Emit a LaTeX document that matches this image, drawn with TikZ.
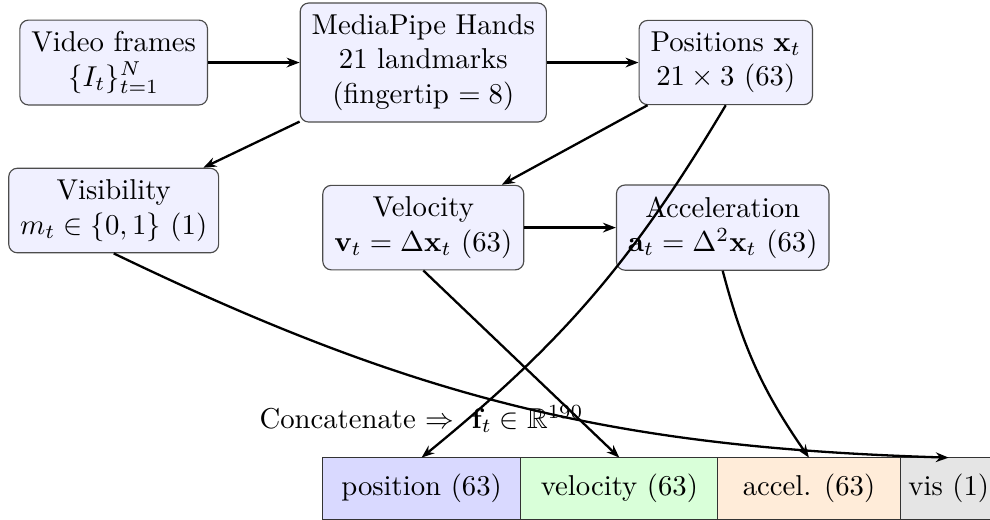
\documentclass[tikz,border=0pt]{standalone}
\usepackage{amsmath,amssymb}
\usetikzlibrary{arrows.meta,positioning,calc}

\begin{document}
\begin{tikzpicture}[every node/.style={align=center},stage/.style={draw=black!70,fill=blue!6,rounded corners=3pt,inner sep=4pt},cell/.style={draw=black!80,fill=#1,minimum height=0.76cm,inner sep=0pt,outer sep=0pt},flow/.style={-{Stealth[length=4.5pt]},thick}]
\node[stage] (frames) {Video frames\\$\{I_t\}_{t=1}^{N}$};
\node[stage,right=1.12cm of frames] (hands) {MediaPipe Hands\\21 landmarks\\(fingertip $=8$)};
\node[stage,right=1.12cm of hands] (pos) {Positions $\mathbf{x}_t$\\$21\times 3$ (63)};
\node[stage,below=0.76cm of frames] (vis) {Visibility\\$m_t\in\{0,1\}$ (1)};
\node[stage,below=0.76cm of hands] (vel) {Velocity\\$\mathbf{v}_t=\Delta\mathbf{x}_t$ (63)};
\node[stage,right=1.12cm of vel] (acc) {Acceleration\\$\mathbf{a}_t=\Delta^2\mathbf{x}_t$ (63)};
% feature vector
\node[cell=blue!15,minimum width=2.43cm,below=2.29cm of vel.south west,anchor=north west] (cpos) {position (63)};
\node[cell=green!15,minimum width=2.41cm,right=0pt of cpos] (cvel) {velocity (63)};
\node[cell=orange!15,minimum width=2.23cm,right=0pt of cvel] (cacc) {accel. (63)};
\node[cell=gray!20,minimum width=1.19cm,right=0pt of cacc] (cvis) {vis (1)};
\node[above=0.18cm of cpos] (cat) {Concatenate $\Rightarrow$ $\;\mathbf{f}_t\in\mathbb{R}^{190}$};
\draw[flow] (frames) -- (hands);
\draw[flow] (hands) -- (pos);
\draw[flow] (hands) -- (vis);
\draw[flow] (pos) -- (vel);
\draw[flow] (vel) -- (acc);
\draw[flow] (pos.south) to[bend left=10] (cpos.north);
\draw[flow] (vel.south) -- (cvel.north);
\draw[flow] (acc.south) to[bend right=10] (cacc.north);
\draw[flow] (vis.south) to[bend right=12] (cvis.north);
\coordinate (tl) at ($(vis.west |- hands.north)+(-0.1,0.03)$);
\coordinate (br) at ($(cvis.east |- cpos.south)+(-0.09,0)$);
\pgfresetboundingbox
\useasboundingbox (tl) rectangle (br);
\end{tikzpicture}
\end{document}
